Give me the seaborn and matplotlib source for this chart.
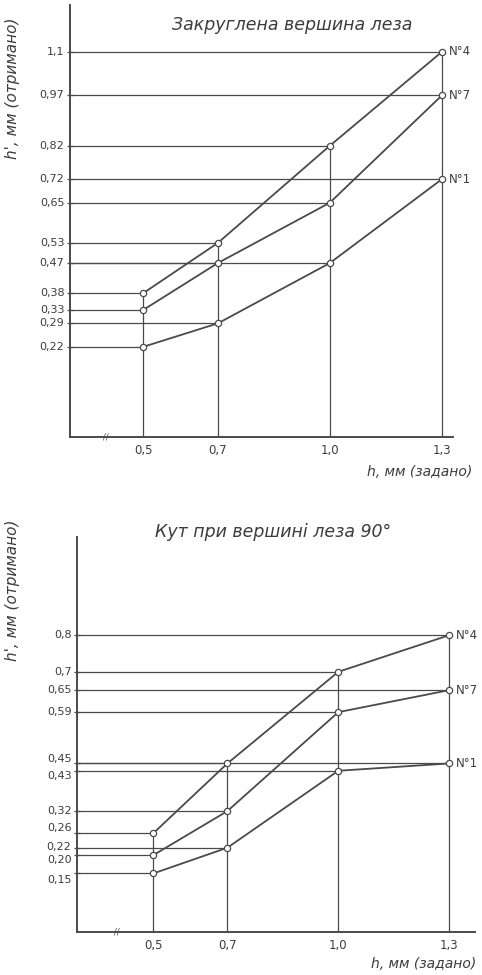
import numpy as np
import pandas as pd
import seaborn as sns
import matplotlib
matplotlib.use('Agg')
import matplotlib.pyplot as plt

# given depth h, mm
h_given = [0.5, 0.7, 1.0, 1.3]

# rounded blade tip (top chart)
top_n4 = [0.38, 0.53, 0.82, 1.10]
top_n7 = [0.33, 0.47, 0.65, 0.97]
top_n1 = [0.22, 0.29, 0.47, 0.72]
top_yticks = [1.10, 0.97, 0.82, 0.72, 0.65, 0.53, 0.47, 0.38, 0.33, 0.29, 0.22]
top_ylabels = ['1,1', '0,97', '0,82', '0,72', '0,65', '0,53', '0,47', '0,38', '0,33', '0,29', '0,22']

# 90 degree blade tip (bottom chart)
bot_n4 = [0.26, 0.45, 0.70, 0.80]
bot_n7 = [0.20, 0.32, 0.59, 0.65]
bot_n1 = [0.15, 0.22, 0.43, 0.45]
bot_yticks = [0.80, 0.70, 0.65, 0.59, 0.45, 0.43, 0.32, 0.26, 0.22, 0.20, 0.15]
bot_ylabels = ['0,8', '0,7', '0,65', '0,59', '0,45', '0,43', '0,32', '0,26', '0,22', '0,20', '0,15']

xtick_labels = ['0,5', '0,7', '1,0', '1,3']
curve_names = ['N°4', 'N°7', 'N°1']

INK = '#4a4a4a'
TXT = '#3c3c3c'

sns.set_theme(style='white')
plt.rcParams['font.family'] = ['DejaVu Sans']


def make_frame(series):
    rows = []
    for name, vals in zip(curve_names, series):
        for x, y in zip(h_given, vals):
            rows.append({'h': x, 'h_out': y, 'curve': name})
    return pd.DataFrame(rows)


def draw_panel(ax, df, yticks, ylabels, xlim, ylim, label_shift):
    ax.set_xlim(*xlim)
    ax.set_ylim(*ylim)

    # guide lines from axes to each measured point
    for _, r in df.iterrows():
        ax.hlines(r['h_out'], xlim[0], r['h'], color=INK, lw=0.9, zorder=1)
    for x in h_given:
        top = df.loc[df['h'] == x, 'h_out'].max()
        ax.vlines(x, ylim[0], top, color=INK, lw=0.9, zorder=1)

    sns.lineplot(data=df, x='h', y='h_out', hue='curve',
                 palette={n: INK for n in curve_names},
                 marker='o', markersize=4.5, markerfacecolor='white',
                 markeredgecolor=INK, markeredgewidth=0.9,
                 lw=1.3, legend=False, ax=ax, zorder=3)

    # curve names at the right end
    for name in curve_names:
        last = df[df['curve'] == name].iloc[-1]
        ax.annotate(name, xy=(last['h'], last['h_out']), xytext=(5, 0),
                    textcoords='offset points', ha='left', va='center',
                    fontsize=8.5, color=TXT)

    ax.set_yticks(yticks)
    ax.tick_params(axis='y', left=True, direction='inout', length=5,
                   width=0.9, color=INK, labelleft=False)
    for v, lab, dy in zip(yticks, ylabels, label_shift):
        ax.annotate(lab, xy=(0, v), xycoords=ax.get_yaxis_transform(),
                    xytext=(-4, dy), textcoords='offset points',
                    ha='right', va='center', fontsize=8, color=TXT)

    ax.set_xticks(h_given)
    ax.set_xticklabels(xtick_labels, fontsize=8.5, color=TXT)
    ax.tick_params(axis='x', bottom=False, length=0, pad=5)

    # axis break mark
    ax.annotate('//', xy=(0.4, 0), xycoords=ax.get_xaxis_transform(),
                ha='center', va='center', fontsize=6, color=INK)

    sns.despine(ax=ax)
    for s in ['left', 'bottom']:
        ax.spines[s].set_color(INK)
        ax.spines[s].set_linewidth(1.4)
    ax.set_xlabel('')
    ax.set_ylabel('')


fig = plt.figure(figsize=(4.82, 9.75), dpi=100)
fig.patch.set_facecolor('white')

ax1 = fig.add_axes([70 / 482, (975 - 437) / 975, 383 / 482, 432 / 975])
ax2 = fig.add_axes([77 / 482, (975 - 932) / 975, 398 / 482, 395 / 975])

df_top = make_frame([top_n4, top_n7, top_n1])
df_bot = make_frame([bot_n4, bot_n7, bot_n1])

draw_panel(ax1, df_top, top_yticks, top_ylabels,
           (0.304, 1.33), (-0.049, 1.24), [0] * 11)
draw_panel(ax2, df_bot, bot_yticks, bot_ylabels,
           (0.293, 1.37), (-0.01, 1.068),
           [0, 0, 0, 0, 3.5, -3.5, 0, 3.5, 0.5, -3.5, -4.5])

# titles and axis captions
fig.text(292 / 482, 1 - 25 / 975, 'Закруглена вершина леза', ha='center',
         va='center', fontsize=12.5, style='italic', color=TXT)
fig.text(273 / 482, 1 - 532 / 975, 'Кут при вершині леза 90°', ha='center',
         va='center', fontsize=12.5, style='italic', color=TXT)
fig.text(13 / 482, 1 - 88 / 975, "h', мм (отримано)", ha='center', va='center',
         rotation=90, fontsize=11, style='italic', color=TXT)
fig.text(13 / 482, 1 - 590 / 975, "h', мм (отримано)", ha='center', va='center',
         rotation=90, fontsize=11, style='italic', color=TXT)
fig.text(472 / 482, 1 - 472 / 975, 'h, мм (задано)', ha='right', va='center',
         fontsize=10, style='italic', color=TXT)
fig.text(476 / 482, 1 - 964 / 975, 'h, мм (задано)', ha='right', va='center',
         fontsize=10, style='italic', color=TXT)

fig.savefig('out.png', dpi=100, facecolor='white')
